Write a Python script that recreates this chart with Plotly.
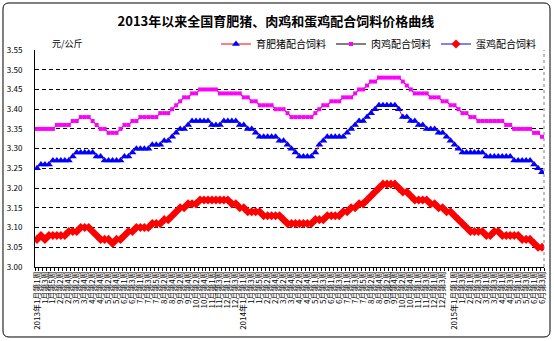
import plotly.graph_objects as go

# ---- categories (weekly, 2013 wk1 .. 2015 Jun) ----
years = [2013, 2014, 2015]
weeks_per_month = {
    2013: [5, 4, 4, 4, 5, 4, 5, 4, 4, 5, 4, 4],
    2014: [5, 4, 4, 5, 4, 4, 5, 4, 4, 5, 4, 5],
    2015: [4, 4, 4, 4, 4, 3],
}

categories = []   # unique category keys
short_labels = []  # label text shown on axis
for y in years:
    for m, n in enumerate(weeks_per_month[y], start=1):
        for w in range(1, n + 1):
            categories.append(f"{y}年{m}月第{w}周")
            if m == 1 and w == 1:
                short_labels.append(f"{y}年{m}月第{w}周")
            else:
                short_labels.append(f"{m}月第{w}周")

# ---- series values (元/公斤) ----
pig = [3.25, 3.26, 3.26, 3.26, 3.27, 3.27, 3.27, 3.27, 3.27, 3.28,
       3.29, 3.29, 3.29, 3.29, 3.29, 3.28, 3.28, 3.27, 3.27, 3.27,
       3.27, 3.27, 3.28, 3.28, 3.29, 3.30, 3.30, 3.30, 3.30, 3.31,
       3.31, 3.31, 3.32, 3.32, 3.33, 3.34, 3.35, 3.35, 3.36, 3.37,
       3.37, 3.37, 3.37, 3.37, 3.36, 3.36, 3.36, 3.37, 3.37, 3.37,
       3.37, 3.36, 3.36, 3.35, 3.35, 3.34, 3.33, 3.33, 3.33, 3.33,
       3.33, 3.32, 3.32, 3.31, 3.30, 3.29, 3.28, 3.28, 3.28, 3.28,
       3.29, 3.31, 3.32, 3.33, 3.33, 3.33, 3.33, 3.33, 3.34, 3.35,
       3.36, 3.37, 3.37, 3.38, 3.39, 3.40, 3.41, 3.41, 3.41, 3.41,
       3.41, 3.40, 3.38, 3.38, 3.37, 3.37, 3.36, 3.36, 3.35, 3.35,
       3.35, 3.34, 3.34, 3.33, 3.32, 3.31, 3.30, 3.29, 3.29, 3.29,
       3.29, 3.29, 3.29, 3.28, 3.28, 3.28, 3.28, 3.28, 3.28, 3.28,
       3.27, 3.27, 3.27, 3.27, 3.27, 3.26, 3.25, 3.24]

broiler = [3.35, 3.35, 3.35, 3.35, 3.35, 3.36, 3.36, 3.36, 3.36, 3.37,
           3.37, 3.38, 3.38, 3.38, 3.37, 3.36, 3.35, 3.35, 3.34, 3.34,
           3.34, 3.35, 3.36, 3.36, 3.37, 3.37, 3.38, 3.38, 3.38, 3.38,
           3.38, 3.39, 3.39, 3.39, 3.40, 3.41, 3.42, 3.43, 3.43, 3.44,
           3.44, 3.45, 3.45, 3.45, 3.45, 3.45, 3.44, 3.44, 3.44, 3.44,
           3.44, 3.44, 3.43, 3.43, 3.42, 3.42, 3.41, 3.41, 3.41, 3.41,
           3.40, 3.40, 3.40, 3.39, 3.38, 3.38, 3.38, 3.38, 3.38, 3.38,
           3.39, 3.40, 3.41, 3.41, 3.42, 3.42, 3.42, 3.43, 3.43, 3.43,
           3.44, 3.45, 3.45, 3.46, 3.47, 3.47, 3.48, 3.48, 3.48, 3.48,
           3.48, 3.48, 3.47, 3.46, 3.45, 3.44, 3.44, 3.44, 3.44, 3.43,
           3.43, 3.43, 3.42, 3.42, 3.41, 3.41, 3.40, 3.39, 3.39, 3.38,
           3.38, 3.37, 3.37, 3.37, 3.37, 3.37, 3.37, 3.37, 3.36, 3.36,
           3.35, 3.35, 3.35, 3.35, 3.35, 3.34, 3.34, 3.33]

egg = [3.07, 3.08, 3.07, 3.08, 3.08, 3.08, 3.08, 3.08, 3.09, 3.09,
       3.09, 3.10, 3.10, 3.10, 3.09, 3.08, 3.07, 3.07, 3.07, 3.06,
       3.07, 3.07, 3.08, 3.09, 3.09, 3.10, 3.10, 3.10, 3.10, 3.11,
       3.11, 3.11, 3.12, 3.12, 3.13, 3.14, 3.15, 3.15, 3.16, 3.16,
       3.16, 3.17, 3.17, 3.17, 3.17, 3.17, 3.17, 3.17, 3.17, 3.16,
       3.16, 3.15, 3.15, 3.14, 3.14, 3.14, 3.14, 3.13, 3.13, 3.13,
       3.13, 3.13, 3.12, 3.11, 3.11, 3.11, 3.11, 3.11, 3.11, 3.11,
       3.12, 3.12, 3.12, 3.13, 3.13, 3.13, 3.13, 3.14, 3.14, 3.15,
       3.15, 3.16, 3.16, 3.17, 3.18, 3.19, 3.20, 3.21, 3.21, 3.21,
       3.21, 3.20, 3.19, 3.19, 3.18, 3.17, 3.17, 3.17, 3.17, 3.16,
       3.16, 3.15, 3.15, 3.14, 3.14, 3.13, 3.12, 3.11, 3.10, 3.09,
       3.09, 3.09, 3.09, 3.08, 3.08, 3.09, 3.09, 3.08, 3.08, 3.08,
       3.08, 3.08, 3.07, 3.07, 3.07, 3.06, 3.05, 3.05]

series_names = ["育肥猪配合饲料", "肉鸡配合饲料", "蛋鸡配合饲料"]
title_text = "2013年以来全国育肥猪、肉鸡和蛋鸡配合饲料价格曲线"
unit_text = "元/公斤"

# ---- tick labels: every other week, restarting at each year's first week ----
tick_text = []
year_start = {}
idx = 0
for y in years:
    year_start[y] = idx
    idx += sum(weeks_per_month[y])
year_of = []
for y in years:
    year_of += [y] * sum(weeks_per_month[y])
last_shown = -10
for i, lab in enumerate(short_labels):
    ys = year_start[year_of[i]]
    show = ((i - ys) % 2 == 0) and (i - last_shown >= 2)
    if i == ys and i - last_shown < 2:
        tick_text[last_shown] = ""
        show = True
    if show:
        tick_text.append(lab)
        last_shown = i
    else:
        tick_text.append("")

FONT = "Noto Sans CJK SC"
W, H = 554, 341
ML, MR, MT, MB = 35, 10, 50, 74
PW, PH = W - ML - MR, H - MT - MB

fig = go.Figure()
fig.add_trace(go.Scatter(
    x=categories, y=pig, name=series_names[0], mode="lines+markers",
    line=dict(color="#FF0000", width=1),
    marker=dict(symbol="triangle-up", color="#0000FF", size=7, line=dict(width=0)),
))
fig.add_trace(go.Scatter(
    x=categories, y=broiler, name=series_names[1], mode="lines+markers",
    line=dict(color="#000000", width=1),
    marker=dict(symbol="square", color="#FF00FF", size=4, line=dict(width=0)),
))
fig.add_trace(go.Scatter(
    x=categories, y=egg, name=series_names[2], mode="lines+markers",
    line=dict(color="#0000FF", width=1),
    marker=dict(symbol="diamond", color="#FF0000", size=7, line=dict(width=0)),
))


def px2paper(px, py):
    return (px - ML) / PW, (MT + PH - py) / PH


# rounded outer border
x0, y0, x1, y1, r = 3, 3, 550, 337, 6
def P(px, py):
    a, b = px2paper(px, py)
    return f"{a:.5f},{b:.5f}"
path = (f"M {P(x0 + r, y0)} L {P(x1 - r, y0)} Q {P(x1, y0)} {P(x1, y0 + r)} "
        f"L {P(x1, y1 - r)} Q {P(x1, y1)} {P(x1 - r, y1)} "
        f"L {P(x0 + r, y1)} Q {P(x0, y1)} {P(x0, y1 - r)} "
        f"L {P(x0, y0 + r)} Q {P(x0, y0)} {P(x0 + r, y0)} Z")

fig.update_layout(
    width=W, height=H,
    margin=dict(l=ML, r=MR, t=MT, b=MB),
    paper_bgcolor="white", plot_bgcolor="white",
    font=dict(family=FONT, size=8, color="black"),
    title=dict(text=title_text, x=0.498, xanchor="center", y=1 - 21 / H, yanchor="middle",
               font=dict(family=FONT, size=13, color="black", weight="bold")),
    showlegend=True,
    legend=dict(orientation="h", x=px2paper(216, 0)[0], xanchor="left",
                y=px2paper(0, 44)[1], yanchor="middle",
                font=dict(family=FONT, size=10, color="black"),
                bgcolor="rgba(0,0,0,0)", borderwidth=0,
                itemsizing="trace", tracegroupgap=0),
    xaxis=dict(
        type="category", categoryorder="array", categoryarray=categories,
        range=[-0.5, len(categories) - 0.5],
        tickmode="array", tickvals=categories, ticktext=tick_text,
        tickangle=-90, tickson="boundaries", ticks="outside", ticklen=3,
        tickcolor="black", tickfont=dict(family=FONT, size=8, color="black"),
        showline=True, linecolor="black", linewidth=1,
        showgrid=False, zeroline=False, automargin=False, fixedrange=True,
    ),
    yaxis=dict(
        range=[3.0, 3.55], tickmode="linear", tick0=3.0, dtick=0.05,
        tickformat=".2f", ticks="", ticklabelstandoff=10,
        tickfont=dict(family=FONT, size=8, color="black"),
        showline=True, linecolor="black", linewidth=1,
        showgrid=True, gridcolor="black", gridwidth=1, griddash="4px,3px",
        zeroline=False, automargin=False, fixedrange=True,
    ),
    shapes=[
        dict(type="line", xref="paper", yref="paper", x0=1, x1=1, y0=0, y1=1,
             line=dict(color="#808080", width=1, dash="dot")),
        dict(type="path", xref="paper", yref="paper", path=path,
             line=dict(color="black", width=1)),
    ],
    annotations=[
        dict(text=unit_text, xref="paper", yref="paper",
             x=px2paper(50, 0)[0], y=px2paper(0, 44)[1], xanchor="left", yanchor="middle",
             showarrow=False, font=dict(family=FONT, size=9, color="black")),
    ],
)

fig.write_html("out.html")
